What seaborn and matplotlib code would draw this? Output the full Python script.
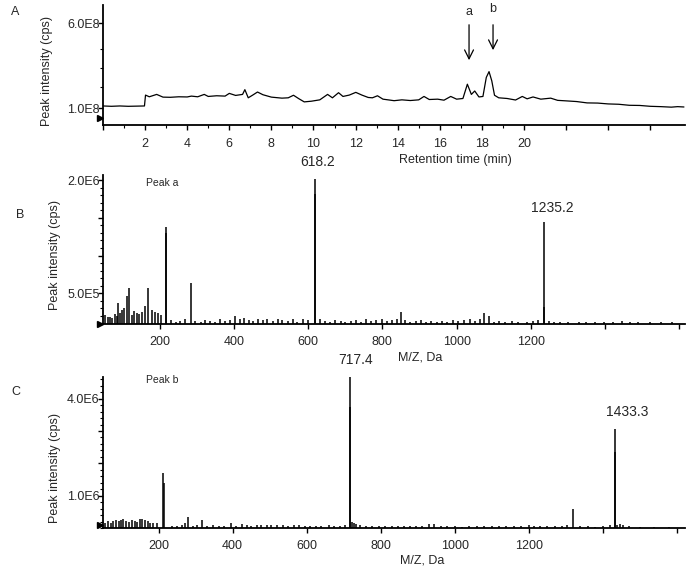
import numpy as np
import pandas as pd
import seaborn as sns
import matplotlib
matplotlib.use("Agg")
import matplotlib.pyplot as plt
from matplotlib.ticker import FixedLocator, FixedFormatter, MultipleLocator

# Panel A: total ion chromatogram, retention time (min) vs intensity (x1e8 cps)
rt_min = [0.0, 0.4, 0.8, 1.2, 1.6, 1.97, 2.02, 2.2, 2.55, 2.85, 3.2, 3.6, 4.0, 4.2, 4.5,
          4.81, 5.0, 5.4, 5.8, 6.0, 6.3, 6.63, 6.74, 6.9, 7.1, 7.34, 7.6, 8.0, 8.5, 8.8,
          9.05, 9.3, 9.56, 9.9, 10.3, 10.67, 10.9, 11.19, 11.4, 11.7, 12.01, 12.3, 12.6,
          12.8, 13.04, 13.3, 13.6, 13.83, 14.2, 14.6, 15.0, 15.25, 15.5, 15.9, 16.2, 16.52,
          16.8, 17.1, 17.31, 17.5, 17.66, 17.86, 18.05, 18.21, 18.34, 18.47, 18.6, 18.8,
          19.2, 19.6, 19.92, 20.15, 20.43, 20.8, 21.27, 21.6, 22.0, 22.5, 23.0, 23.5, 24.0,
          24.5, 25.0, 25.5, 26.0, 26.5, 27.0, 27.3, 27.6]
tic_e8 = [1.12, 1.10, 1.12, 1.10, 1.11, 1.12, 1.76, 1.66, 1.80, 1.64, 1.63, 1.66, 1.65, 1.70, 1.66,
          1.80, 1.68, 1.72, 1.70, 1.86, 1.74, 1.80, 2.08, 1.60, 1.75, 1.94, 1.78, 1.64, 1.58, 1.60,
          1.75, 1.55, 1.36, 1.40, 1.48, 1.80, 1.60, 1.90, 1.68, 1.76, 1.92, 1.76, 1.62,
          1.60, 1.72, 1.52, 1.47, 1.43, 1.48, 1.44, 1.48, 1.68, 1.50, 1.52, 1.46, 1.68,
          1.52, 1.56, 2.40, 1.80, 2.00, 1.65, 1.68, 2.80, 3.14, 2.60, 1.75, 1.60,
          1.56, 1.47, 1.68, 1.54, 1.65, 1.52, 1.58, 1.45, 1.42, 1.38, 1.30, 1.29, 1.24,
          1.22, 1.16, 1.15, 1.10, 1.08, 1.05, 1.08, 1.06]

# Panel B: MS spectrum of peak a, m/z vs intensity (x1e6 cps)
mz_a = [52, 61, 66, 72, 79, 84, 88, 92, 97, 104, 111, 118, 124, 131, 138, 145, 151, 160,
        167, 178, 187, 196, 202, 216, 217.5, 230, 243, 255, 268, 283, 296, 310, 322, 335,
        350, 362, 375, 388, 403, 415, 428, 440, 452, 466, 478, 490, 505, 518, 530, 545,
        558, 570, 585, 600, 618.2, 619.2, 632, 645, 660, 672, 688, 700, 715, 728, 742,
        755, 770, 784, 798, 812, 826, 838, 851, 862, 875, 890, 905, 918, 932, 946, 960,
        975, 990, 1005, 1020, 1035, 1050, 1062, 1074, 1088, 1100, 1115, 1130, 1148, 1165,
        1190, 1205, 1220, 1235.2, 1236.2, 1250, 1262, 1280, 1300, 1330, 1350, 1372, 1398,
        1422, 1445, 1468, 1490, 1520, 1550, 1580]
int_a = [0.21, 0.18, 0.18, 0.17, 0.22, 0.20, 0.37, 0.24, 0.27, 0.30, 0.46, 0.57, 0.21, 0.26,
         0.23, 0.22, 0.25, 0.33, 0.57, 0.27, 0.25, 0.23, 0.21, 1.38, 1.30, 0.14, 0.12, 0.13,
         0.15, 0.64, 0.13, 0.12, 0.14, 0.13, 0.12, 0.15, 0.13, 0.14, 0.20, 0.15, 0.17,
         0.14, 0.13, 0.16, 0.14, 0.15, 0.13, 0.15, 0.14, 0.13, 0.15, 0.12, 0.16, 0.14,
         2.02, 1.82, 0.15, 0.13, 0.12, 0.14, 0.13, 0.12, 0.13, 0.14, 0.12, 0.15, 0.13,
         0.14, 0.15, 0.13, 0.14, 0.16, 0.25, 0.14, 0.12, 0.13, 0.14, 0.12, 0.13, 0.12,
         0.13, 0.12, 0.14, 0.13, 0.14, 0.15, 0.13, 0.15, 0.23, 0.19, 0.12, 0.13, 0.12,
         0.13, 0.12, 0.12, 0.13, 0.14, 1.45, 0.31, 0.13, 0.12, 0.11, 0.12, 0.11, 0.12,
         0.11, 0.12, 0.11, 0.13, 0.11, 0.12, 0.11, 0.11, 0.12]

# Panel C: MS spectrum of peak b, m/z vs intensity (x1e6 cps)
mz_b = [55, 62, 70, 78, 85, 92, 98, 105, 112, 120, 128, 135, 142, 150, 156, 162, 170, 178,
        186, 195, 212.5, 215.5, 235, 250, 262, 270, 280, 292, 305, 316, 330, 348, 362,
        378, 395, 410, 425, 438, 450, 465, 478, 492, 505, 520, 535, 550, 565, 580, 595,
        610, 625, 640, 660, 675, 690, 705, 716.4, 717.4, 722, 728, 733, 745, 760, 778,
        795, 812, 830, 848, 862, 880, 895, 912, 930, 945, 962, 980, 1000, 1020, 1040,
        1060, 1080, 1100, 1120, 1140, 1160, 1180, 1200, 1215, 1230, 1250, 1270, 1290,
        1305, 1319, 1340, 1360, 1380, 1400, 1420, 1433.3, 1434.3, 1440, 1448, 1455, 1470,
        1500, 1540, 1580]
int_b = [0.16, 0.21, 0.15, 0.23, 0.25, 0.21, 0.26, 0.27, 0.23, 0.19, 0.25, 0.21, 0.19,
         0.29, 0.29, 0.25, 0.21, 0.17, 0.15, 0.14, 1.71, 1.38, 0.07, 0.06, 0.08, 0.16, 0.35,
         0.07, 0.08, 0.24, 0.06, 0.08, 0.06, 0.05, 0.15, 0.07, 0.11, 0.09, 0.07, 0.08,
         0.09, 0.10, 0.09, 0.10, 0.08, 0.07, 0.09, 0.08, 0.06, 0.07, 0.06, 0.05, 0.09,
         0.07, 0.06, 0.08, 3.75, 4.67, 0.19, 0.15, 0.13, 0.08, 0.06, 0.05, 0.07, 0.05,
         0.06, 0.07, 0.06, 0.07, 0.06, 0.07, 0.11, 0.11, 0.05, 0.06, 0.05, 0.04, 0.05,
         0.06, 0.05, 0.05, 0.06, 0.05, 0.06, 0.07, 0.08, 0.06, 0.07, 0.07, 0.07, 0.06,
         0.08, 0.58, 0.06, 0.05, 0.04, 0.06, 0.08, 3.07, 2.36, 0.09, 0.11, 0.08, 0.05,
         0.03, 0.03, 0.02]

sns.set_style("ticks")
plt.rcParams["font.family"] = ["Liberation Sans", "DejaVu Sans"]
plt.rcParams["axes.linewidth"] = 1.3

W, H = 691, 571
fig = plt.figure(figsize=(W / 100, H / 100), dpi=100)


def box(l, t, r, b):
    return [l / W, 1 - b / H, (r - l) / W, (b - t) / H]


axA = fig.add_axes(box(103, 5, 685, 125))
axB = fig.add_axes(box(103, 175, 685, 324))
axC = fig.add_axes(box(103, 377, 685, 528))

# --- A: chromatogram
dfA = pd.DataFrame({"rt": rt_min, "cps": np.array(tic_e8) * 1e8})
sns.lineplot(data=dfA, x="rt", y="cps", ax=axA, color="black", lw=0.9)
axA.set_xlim(0, 27.65)
axA.set_ylim(0, 7.06e8)
axA.xaxis.set_major_locator(MultipleLocator(2))
axA.xaxis.set_minor_locator(FixedLocator(list(range(1, 20, 2))))
axA.xaxis.set_major_formatter(plt.FuncFormatter(lambda v, p: f"{v:.0f}" if 2 <= v <= 20 else ""))
axA.yaxis.set_major_locator(FixedLocator([1e8, 6e8]))
axA.yaxis.set_major_formatter(FixedFormatter(["1.0E8", "6.0E8"]))
axA.yaxis.set_minor_locator(FixedLocator([2.25e8, 3.35e8, 4.5e8]))
axA.set_xlabel("Retention time (min)", fontsize=9, va="center")
axA.xaxis.set_label_coords(0.605, -0.29)
axA.set_ylabel("Peak intensity (cps)", fontsize=9, va="center")
axA.yaxis.set_label_coords(-0.097, 0.45)
axA.tick_params(axis="x", pad=6)
for x0, y0, y1, lab, ty in [(17.39, 6.06e8, 3.65e8, "a", 6.62e8), (18.53, 6.06e8, 4.24e8, "b", 6.8e8)]:
    axA.annotate("", xy=(x0, y1), xytext=(x0, y0),
                 arrowprops=dict(arrowstyle="->", lw=0.9, color="black", mutation_scale=16))
    axA.text(x0, ty, lab, ha="center", va="center", fontsize=9)

# --- B: spectrum of peak a
axB.vlines(mz_a, 0.09e6, np.array(int_a) * 1e6, color="black", lw=1.1)
axB.set_xlim(46.9, 1615.6)
axB.set_ylim(0.09e6, 2.07e6)
axB.yaxis.set_major_locator(FixedLocator([0.5e6, 1.0e6, 1.5e6, 2.0e6]))
axB.yaxis.set_major_formatter(FixedFormatter(["5.0E5", "", "", "2.0E6"]))
axB.yaxis.set_minor_locator(MultipleLocator(0.1e6))
axB.set_xlabel("M/Z, Da", fontsize=9, va="center")
axB.xaxis.set_label_coords(0.545, -0.228)
axB.set_ylabel("Peak intensity (cps)", fontsize=9, va="center")
axB.yaxis.set_label_coords(-0.083, 0.46)
axB.text(0.074, 0.946, "Peak a", transform=axB.transAxes, fontsize=7.5, va="center")
axB.annotate("618.2", (618.2, 2.02e6), xytext=(2, 7), textcoords="offset points",
             ha="center", va="bottom", fontsize=10, annotation_clip=False)
axB.annotate("1235.2", (1235.2, 1.45e6), xytext=(6, 5), textcoords="offset points",
             ha="center", va="bottom", fontsize=10, annotation_clip=False)

# --- C: spectrum of peak b
axC.vlines(mz_b, 0, np.array(int_b) * 1e6, color="black", lw=1.1)
axC.set_xlim(49.7, 1622.7)
axC.set_ylim(0, 4.67e6)
axC.yaxis.set_major_locator(FixedLocator([1e6, 2e6, 3e6, 4e6]))
axC.yaxis.set_major_formatter(FixedFormatter(["1.0E6", "", "", "4.0E6"]))
axC.yaxis.set_minor_locator(MultipleLocator(0.2e6))
axC.set_xlabel("M/Z, Da", fontsize=9, va="center")
axC.xaxis.set_label_coords(0.548, -0.212)
axC.set_ylabel("Peak intensity (cps)", fontsize=9, va="center")
axC.yaxis.set_label_coords(-0.083, 0.40)
axC.text(0.074, 0.98, "Peak b", transform=axC.transAxes, fontsize=7.5, va="center")
axC.annotate("717.4", (717.4, 4.67e6), xytext=(4, 7), textcoords="offset points",
             ha="center", va="bottom", fontsize=10, annotation_clip=False)
axC.annotate("1433.3", (1433.3, 3.07e6), xytext=(9, 7), textcoords="offset points",
             ha="center", va="bottom", fontsize=10, annotation_clip=False)

for ax in (axB, axC):
    ax.xaxis.set_major_locator(MultipleLocator(200))
    ax.xaxis.set_major_formatter(plt.FuncFormatter(lambda v, p: f"{v:.0f}" if 200 <= v <= 1200 else ""))
    ax.tick_params(axis="x", pad=5)

for ax, my in ((axA, 0.058), (axB, 0.0), (axC, 0.02)):
    sns.despine(ax=ax)
    ax.spines["left"].set_color("black")
    ax.spines["bottom"].set_color("black")
    ax.tick_params(which="major", length=3.5, width=1, color="black", labelsize=9)
    ax.tick_params(which="minor", length=2, width=0.8, color="black")
    ax.tick_params(axis="y", pad=-1)
    ax.plot([-0.006], [my], marker=">", color="black", markersize=5,
            transform=ax.transAxes, clip_on=False)

fig.text(15 / W, 1 - 12 / H, "A", fontsize=9, ha="center", va="center")
fig.text(20 / W, 1 - 215 / H, "B", fontsize=9, ha="center", va="center")
fig.text(16 / W, 1 - 392 / H, "C", fontsize=9, ha="center", va="center")

fig.savefig("out.png", dpi=100, facecolor="white")
